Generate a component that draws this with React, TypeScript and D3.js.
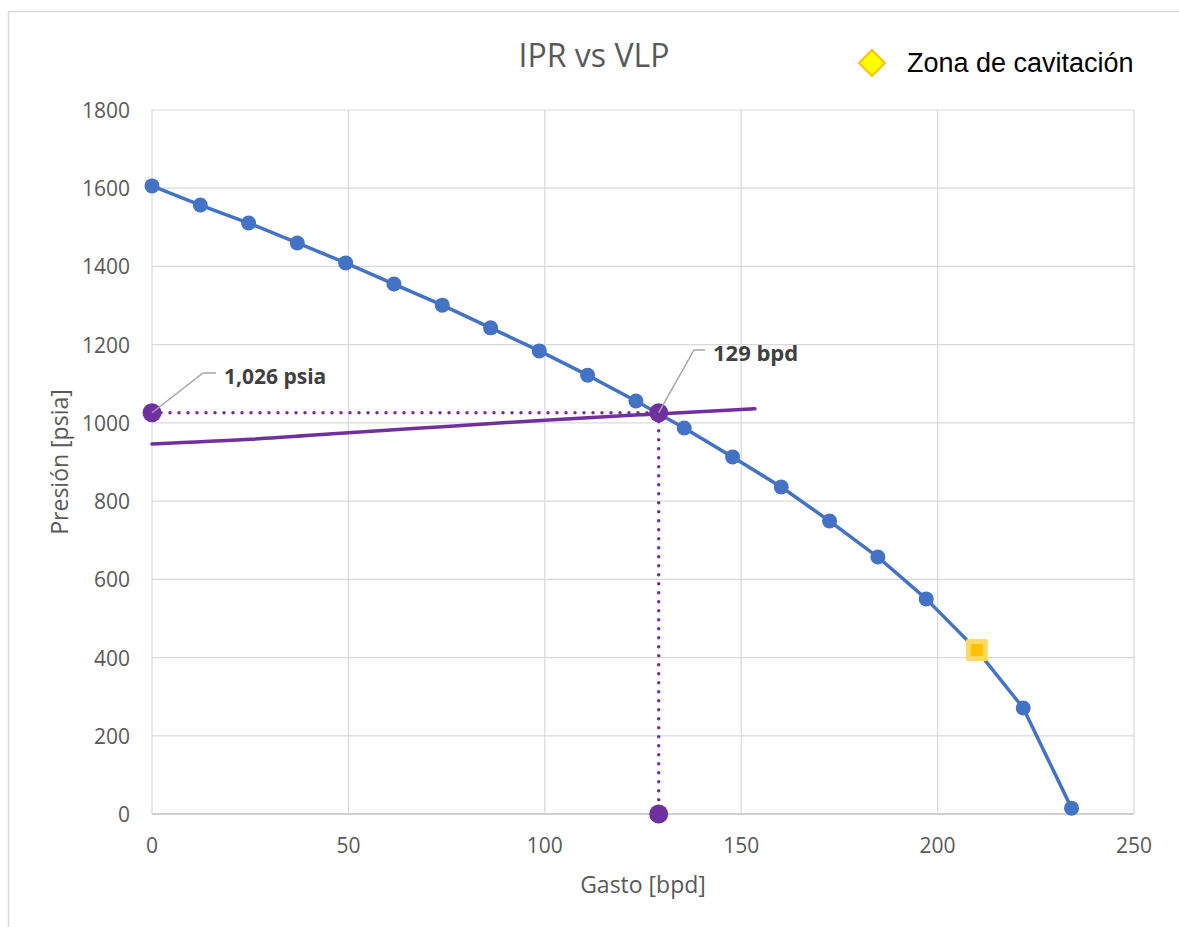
import React from "react";
import * as d3 from "d3";

const iprQ = [0, 12.3, 24.6, 37.0, 49.3, 61.6, 73.9, 86.2, 98.6, 110.9, 123.2, 135.5, 147.8, 160.2, 172.5, 184.8, 197.1, 210, 221.8, 234.1];
const iprP = [1606, 1557, 1511, 1460, 1409, 1355, 1301, 1243, 1184, 1122, 1056, 987, 913, 836, 749, 657, 550, 419, 271, 15];
const vlpQ = [0, 25, 50, 75, 100, 125, 153.5];
const vlpP = [946, 958, 975, 991, 1007, 1021, 1036];
const cavQ = [210];
const cavP = [419];
const opQ = 129;
const opP = 1026;
const xTicks = [0, 50, 100, 150, 200, 250];
const yTicks = [0, 200, 400, 600, 800, 1000, 1200, 1400, 1600, 1800];

const W = 1179, H = 927;
const BLUE = "#4472c4";
const PURPLE = "#7030a0";
const GRID = "#d9d9d9";
const TXT = "#595959";
const FONT = "'Open Sans', 'Liberation Sans', sans-serif";

export default function App() {
  const x = d3.scaleLinear().domain([0, 250]).range([152, 1134]);
  const y = d3.scaleLinear().domain([0, 1800]).range([814, 110]);
  const line = d3.line<[number, number]>().x(d => x(d[0])).y(d => y(d[1]));
  const vlpLine = d3.line<[number, number]>().x(d => x(d[0])).y(d => y(d[1])).curve(d3.curveMonotoneX);
  const ipr = iprQ.map((q, i) => [q, iprP[i]] as [number, number]);
  const vlp = vlpQ.map((q, i) => [q, vlpP[i]] as [number, number]);

  const ox = x(opQ), oy = y(opP);
  return (
    <svg width={W} height={H} style={{ position: "absolute", left: 0, top: 0, background: "#fff" }} fontFamily={FONT}>
      {/* outer border */}
      <path d={`M8.5,${H} V11.5 H${W}`} fill="none" stroke={GRID} strokeWidth={1.5} />
      {/* grid */}
      {yTicks.map(t => (
        <line key={"gy" + t} x1={x(0)} x2={x(250)} y1={y(t)} y2={y(t)} stroke={t === 0 ? "#bfbfbf" : GRID} strokeWidth={t === 0 ? 1.5 : 1.2} />
      ))}
      {xTicks.map(t => (
        <line key={"gx" + t} x1={x(t)} x2={x(t)} y1={y(0)} y2={y(1800)} stroke={GRID} strokeWidth={1.2} />
      ))}
      {/* tick labels */}
      {yTicks.map(t => (
        <text key={"ty" + t} x={130} y={y(t) + 8} textAnchor="end" fontSize={21} fill={TXT}>{t}</text>
      ))}
      {xTicks.map(t => (
        <text key={"tx" + t} x={x(t)} y={853} textAnchor="middle" fontSize={21} fill={TXT}>{t}</text>
      ))}
      {/* axis titles */}
      <text x={643} y={893} textAnchor="middle" fontSize={23} fill={TXT}>Gasto [bpd]</text>
      <text transform="translate(60,462) rotate(-90)" dy="0.35em" textAnchor="middle" fontSize={23} fill={TXT}>Presión [psia]</text>
      {/* title */}
      <text x={594} y={67} textAnchor="middle" fontSize={32} fill={TXT}>IPR vs VLP</text>
      {/* legend */}
      <path d="M872,50 L885,63 L872,76 L859,63 Z" fill="#ffff00" stroke="#ffc000" strokeWidth={2} />
      <text x={907} y={72} fontSize={27} fill="#000" fontFamily="'Liberation Sans', Arial, sans-serif">Zona de cavitación</text>

      {/* dotted operating lines */}
      <line x1={x(0)} x2={ox} y1={oy} y2={oy} stroke={PURPLE} strokeWidth={3.5} strokeLinecap="round" strokeDasharray="0 9" />
      <line x1={ox} x2={ox} y1={oy} y2={y(0)} stroke={PURPLE} strokeWidth={3.5} strokeLinecap="round" strokeDasharray="0 9" />

      {/* IPR */}
      <path d={line(ipr) || ""} fill="none" stroke={BLUE} strokeWidth={3.5} strokeLinejoin="round" />
      {ipr.map((d, i) => cavQ.includes(d[0]) ? null : (
        <circle key={"ip" + i} cx={x(d[0])} cy={y(d[1])} r={7.5} fill={BLUE} />
      ))}
      {/* cavitation */}
      {cavQ.map((q, i) => (
        <g key={"cv" + i}>
          <rect x={x(q) - 11} y={y(cavP[i]) - 11} width={22} height={22} rx={2} fill="#ffd966" />
          <rect x={x(q) - 6} y={y(cavP[i]) - 6} width={12} height={12} fill="#ffc000" />
        </g>
      ))}

      {/* VLP */}
      <path d={vlpLine(vlp) || ""} fill="none" stroke={PURPLE} strokeWidth={3.5} strokeLinecap="round" />

      {/* operating markers */}
      <circle cx={x(0)} cy={oy} r={9.5} fill={PURPLE} />
      <circle cx={ox} cy={oy} r={9.5} fill={PURPLE} />
      <circle cx={ox} cy={y(0)} r={9.5} fill={PURPLE} />

      {/* labels with leader lines */}
      <polyline points={`${x(0)},${oy} 203,373 216,373`} fill="none" stroke="#a6a6a6" strokeWidth={1.5} />
      <text x={224} y={377} dy="0.35em" fontSize={21} fontWeight="bold" fill="#404040">{d3.format(",")(opP) + " psia"}</text>
      <polyline points={`${ox},${oy} 694,350 705,350`} fill="none" stroke="#a6a6a6" strokeWidth={1.5} />
      <text x={713} y={353} dy="0.35em" fontSize={22} fontWeight="bold" fill="#404040">{opQ + " bpd"}</text>
    </svg>
  );
}
